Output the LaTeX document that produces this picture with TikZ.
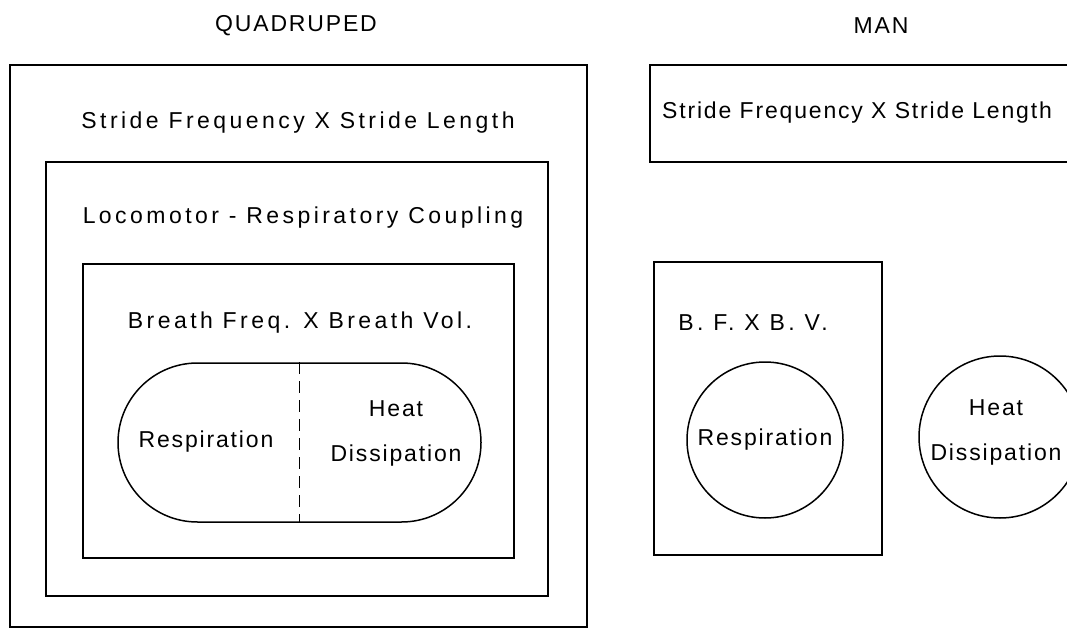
\documentclass[tikz,border=0pt]{standalone}
\usepackage{fontspec}
\setmainfont[LetterSpace=15]{Liberation Sans}
\newfontfamily\tightfont[LetterSpace=8]{Liberation Sans}
\usetikzlibrary{positioning}

\begin{document}
\begin{tikzpicture}[
        x=1pt, y=-1pt,
        line width=1.5pt,
        box/.style={draw, rectangle, inner sep=0pt},
        pill/.style={draw, rectangle, inner sep=0pt, rounded corners=79.5pt},
        disc/.style={draw, circle, inner sep=0pt},
        lbl/.style={font=\fontsize{23}{45}\selectfont, inner sep=0pt, align=center},
        lbltight/.style={lbl, font=\fontsize{23}{45}\tightfont}
    ]
        \useasboundingbox (0,0) rectangle (1067,628);

        % Titles
        \node[lbltight] (quadtitle) at (296,26) {QUADRUPED};
        \node[lbltight] (mantitle) at (881,26) {MAN};

        % Quadruped: nested boxes
        \node[box, minimum width=577pt, minimum height=562pt] (qouter) at (298.5,346) {};
        \node[box, minimum width=502pt, minimum height=434pt] (qcoupling) at (297,379) {};
        \node[box, minimum width=431pt, minimum height=294pt] (qbreath) at (298.5,411) {};
        \node[pill, minimum width=363pt, minimum height=159pt] (qpill) at (299.5,442.5) {};

        \node[lbl] (qstride) at (298,123) {Stride Frequency X Stride Length};
        \node[lbl] (qloco) at (303,218) {Locomotor - Respiratory Coupling};
        \node[lbl] (qbfbv) at (300,323) {Breath Freq. X Breath Vol.};
        \node[lbltight] (qresp) at (206,442) {Respiration};
        \node[lbltight] (qheat) at (396,433) {Heat\\Dissipation};

        % Split between respiration and heat dissipation
        \draw[dash pattern=on 12pt off 7pt] (qpill.north) -- (qpill.south);

        % Man: separate parts
        \node[box, minimum width=435pt, minimum height=97pt] (mstridebox) at (867.5,113.5) {};
        \node[lbltight] (mstride) at (857,113) {Stride Frequency X Stride Length};

        \node[box, minimum width=228pt, minimum height=293pt] (mbreath) at (768,408.5) {};
        \node[lbl] (mbfbv) at (753,323) {B. F. X B. V.};

        \node[disc, minimum size=156pt] (mresp) at (765,440) {};
        \node[lbltight] (mresptxt) at (765,440) {Respiration};

        \node[disc, minimum size=162pt] (mheat) at (1000,437) {};
        \node[lbltight] (mheattxt) at (996,432) {Heat\\Dissipation};

    \end{tikzpicture}
\end{document}
